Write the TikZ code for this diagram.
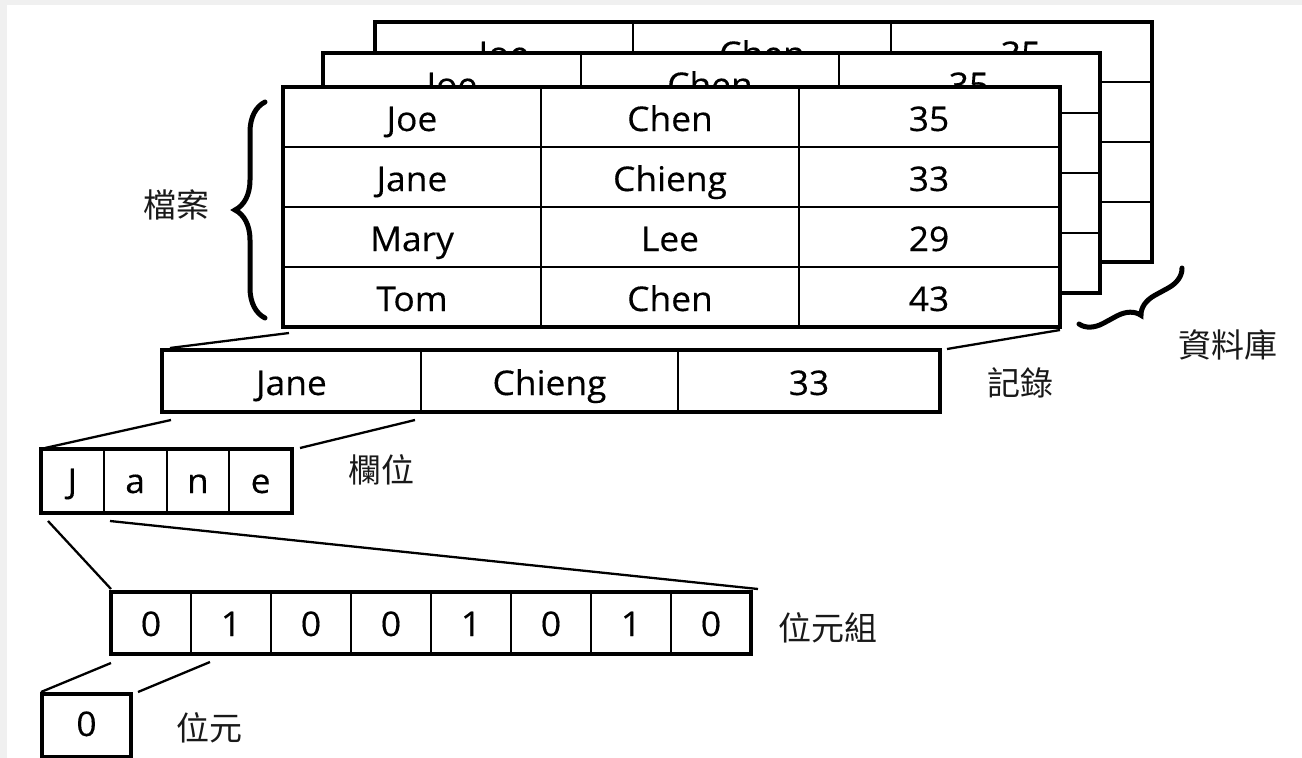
\documentclass[tikz,border=0pt]{standalone}
\usepackage{fontspec}
\newfontfamily\lat[FakeStretch=1.04,FakeBold=0.3]{Open Sans}
\newfontfamily\cjk{Noto Sans CJK TC}
\usetikzlibrary{decorations.pathreplacing,calc}
\tikzset{
  tabbox/.style={draw=black, line width=4.5pt, fill=white, inner sep=0pt, outer sep=0pt, anchor=north west},
  grid/.style={draw=black, line width=2pt},
  txt/.style={inner sep=0pt, anchor=base, text=black, font=\lat\fontsize{34}{38}\selectfont},
  lbl/.style={inner sep=0pt, text=black!90, font=\cjk\fontsize{33}{36}\selectfont},
  conn/.style={draw=black, line width=2.3pt},
  bracestyle/.style={draw=black, line width=5pt, line cap=round, decorate}
}
% #1 name, #2 x, #3 y, #4 rows of text to draw
\newcommand{\dbtab}[4]{%
  \node[tabbox, minimum width=777pt, minimum height=240pt] (#1) at (#2,#3) {};
  \foreach \r in {1,2,3}
    \draw[grid] ($(#1.north west)+(0,60*\r)$) -- ($(#1.north east)+(0,60*\r)$);
  \draw[grid] ($(#1.north west)+(258,0)$) -- ($(#1.south west)+(258,0)$);
  \draw[grid] ($(#1.north west)+(516,0)$) -- ($(#1.south west)+(516,0)$);
  \foreach \a/\b/\c [count=\i] in {#4} {
    \node[txt] (#1-\i-a) at ($(#1.north west)+(129,60*\i-16)$) {\a};
    \node[txt] (#1-\i-b) at ($(#1.north west)+(387,60*\i-16)$) {\b};
    \node[txt] (#1-\i-c) at ($(#1.north west)+(646,60*\i-16)$) {\c};
  }
  \draw[black, line width=4.5pt] (#1.north west) rectangle (#1.south east);
}
\begin{document}
\begin{tikzpicture}[x=1pt,y=-1pt]
\useasboundingbox (0,0) rectangle (1302,758);
\fill[white] (0,0) rectangle (1302,758);
\fill[black!6] (0,0) rectangle (1302,5);
\fill[black!6] (0,0) rectangle (7,758);

% stacked tables
\dbtab{tabC}{375}{22}{Joe/Chen/35}
\dbtab{tabB}{323}{53}{Joe/Chen/35}
\dbtab{tabA}{283}{87}{Joe/Chen/35, Jane/Chieng/33, Mary/Lee/29, Tom/Chen/43}

% record
\node[tabbox, minimum width=778pt, minimum height=62pt] (rec) at (162,350) {};
\draw[grid] ($(rec.north west)+(259,0)$) -- ($(rec.south west)+(259,0)$);
\draw[grid] ($(rec.north west)+(516,0)$) -- ($(rec.south west)+(516,0)$);
\node[txt] (rec-a) at ($(rec.north west)+(129.5,45)$) {Jane};
\node[txt] (rec-b) at ($(rec.north west)+(387.5,45)$) {Chieng};
\node[txt] (rec-c) at ($(rec.north west)+(647,45)$) {33};
\draw[black, line width=4.5pt] (rec.north west) rectangle (rec.south east);

% field
\node[tabbox, minimum width=251pt, minimum height=64pt] (fld) at (41,449) {};
\foreach \k in {1,2,3}
  \draw[grid] ($(fld.north west)+(62.75*\k,0)$) -- ($(fld.south west)+(62.75*\k,0)$);
\foreach \ch [count=\k from 0] in {J,a,n,e}
  \node[txt] (fld-\k) at ($(fld.north west)+(31.4+62.75*\k,44)$) {\ch};
\draw[black, line width=4.5pt] (fld.north west) rectangle (fld.south east);

% byte
\node[tabbox, minimum width=640pt, minimum height=62pt] (byte) at (111,592) {};
\foreach \k in {1,...,7}
  \draw[grid] ($(byte.north west)+(80*\k,0)$) -- ($(byte.south west)+(80*\k,0)$);
\foreach \d [count=\k from 0] in {0,1,0,0,1,0,1,0}
  \node[txt] (byte-\k) at ($(byte.north west)+(40+80*\k,44)$) {\d};
\draw[black, line width=4.5pt] (byte.north west) rectangle (byte.south east);

% bit
\node[tabbox, minimum width=89pt, minimum height=63pt] (bit) at (42,694) {};
\node[txt] (bit-0) at ($(bit.north west)+(44.5,42)$) {0};
\draw[black, line width=4.5pt] (bit.north west) rectangle (bit.south east);

% connectors
\draw[conn] ($(rec.north west)+(8,-2)$) -- ($(tabA.south west)+(6,6)$);
\draw[conn] ($(rec.north east)+(7,-1)$) -- ($(tabA.south east)+(0,3)$);
\draw[conn] ($(rec.south west)+(9,8)$) -- ($(fld.north west)+(4,-1)$);
\draw[conn] ($(rec.south west)+(253,8)$) -- ($(fld.north east)+(8,-1)$);
\draw[conn] ($(fld.south west)+(7,8)$) -- ($(byte.north west)+(0,-3)$);
\draw[conn] ($(fld.south west)+(69,8)$) -- ($(byte.north east)+(7,-3)$);
\draw[conn] ($(byte.south west)+(0,9)$) -- ($(bit.north west)+(-1,-2)$);
\draw[conn] ($(byte.south west)+(99,8)$) -- ($(bit.north east)+(7,-2)$);

% braces
\coordinate (fb1) at (265,318);
\coordinate (fb2) at (265,102);
\draw[bracestyle, decoration={brace, amplitude=30pt}] (fb1) -- (fb2);
\coordinate (db1) at (1079,324);
\coordinate (db2) at (1182,268);
\draw[bracestyle, decoration={brace, mirror, amplitude=22pt}] (db1) -- (db2);

% labels
\node[lbl] (lfile) at (176,205) {檔案};
\node[lbl] (ldb) at (1228,345) {資料庫};
\node[lbl] (lrec) at (1020,383) {記錄};
\node[lbl] (lfld) at (381,470) {欄位};
\node[lbl] (lbyte) at (828,628) {位元組};
\node[lbl] (lbit) at (209,728) {位元};
\end{tikzpicture}
\end{document}
